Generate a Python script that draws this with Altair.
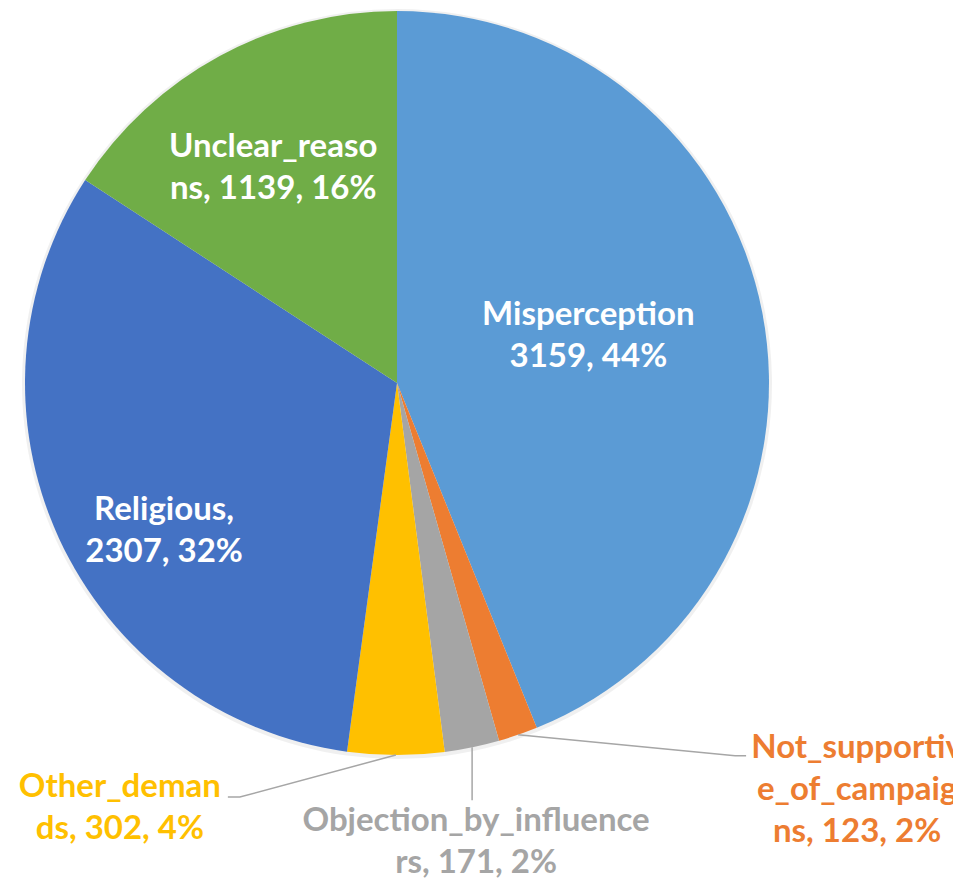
import math
import altair as alt
import pandas as pd

# ---- data ----
categories = ["Misperception", "Not_supportive_of_campaigns", "Objection_by_influencers",
              "Other_demands", "Religious", "Unclear_reasons"]
counts = [3159, 123, 171, 302, 2307, 1139]
label_lines = [
    ["Misperception", "3159, 44%"],
    ["Not_supportiv", "e_of_campaig", "ns, 123, 2%"],
    ["Objection_by_influence", "rs, 171, 2%"],
    ["Other_deman", "ds, 302, 4%"],
    ["Religious,", "2307, 32%"],
    ["Unclear_reaso", "ns, 1139, 16%"],
]
colors = ["#5B9BD5", "#ED7D31", "#A5A5A5", "#FFC000", "#4472C4", "#70AD47"]

# ---- layout / style ----
W, H = 945, 871
CX, CY = 389, 375
R = 372
FONT = "Lato"
FS = 33
LH = 42

total = sum(counts)
df = pd.DataFrame({
    "category": categories,
    "count": counts,
    "idx": list(range(len(categories))),
    "label": ["\n".join(l) for l in label_lines],
    "nlines": [len(l) for l in label_lines],
})
df["mid"] = df["count"].cumsum() - df["count"] / 2.0
ang = 2 * math.pi * df["mid"] / total
df["ex"] = CX + R * ang.apply(math.sin)
df["ey"] = CY - R * ang.apply(math.cos)

theta_scale = alt.Scale(domain=[0, total], range=[0, 2 * math.pi])
color_scale = alt.Scale(domain=categories, range=colors)

base = alt.Chart(df)

shadow = base.mark_arc(radius=R + 3, color="#000000", opacity=0.06).encode(
    theta=alt.Theta("count:Q", stack=True, scale=theta_scale),
    order=alt.Order("idx:Q"),
    x=alt.value(CX), y=alt.value(CY + 1),
)

pie = base.mark_arc(radius=R).encode(
    theta=alt.Theta("count:Q", stack=True, scale=theta_scale),
    order=alt.Order("idx:Q"),
    color=alt.Color("category:N", scale=color_scale, legend=None),
    x=alt.value(CX), y=alt.value(CY),
)

# label placement: (category, radius, dx, dy of block centre, text color)
label_style = [
    ("Misperception", 197, -2, -9, "#FFFFFF"),
    ("Religious", 276, 18, 33, "#FFFFFF"),
    ("Unclear_reasons", 245, -7, 0, "#FFFFFF"),
    ("Not_supportive_of_campaigns", R, 339, 55, "#ED7D31"),
    ("Objection_by_influencers", R, 4, 95, "#A5A5A5"),
    ("Other_demands", R, -276, 53, "#FFC000"),
]

text_layers = []
for cat, rad, dx, dy, col in label_style:
    n = int(df[df["category"] == cat]["nlines"].iloc[0])
    t = base.transform_filter(alt.datum.category == cat).mark_text(
        radius=rad, dx=dx, dy=dy - (n - 1) * LH / 2.0, font=FONT, fontSize=FS,
        fontWeight="bold", color=col, lineBreak="\n", lineHeight=LH,
        align="center", baseline="middle",
    ).encode(
        theta=alt.Theta("mid:Q", scale=theta_scale),
        text="label:N",
        x=alt.value(CX), y=alt.value(CY),
    )
    text_layers.append(t)

# leader lines: offsets from slice edge point
leader_style = {
    "Not_supportive_of_campaigns": [(0, 0), (217, 21), (228, 21)],
    "Objection_by_influencers": [(0, 0), (0, 53)],
    "Other_demands": [(0, 0), (-156, 42), (-168, 42)],
}
rows = []
for cat, pts in leader_style.items():
    r0 = df[df["category"] == cat].iloc[0]
    for i, (ox, oy) in enumerate(pts):
        rows.append({"category": cat, "pt": i, "px": r0["ex"] + ox, "py": r0["ey"] + oy})
leaders_df = pd.DataFrame(rows)

leaders = alt.Chart(leaders_df).mark_line(color="#A6A6A6", strokeWidth=1.5).encode(
    x=alt.X("px:Q", scale=None),
    y=alt.Y("py:Q", scale=None),
    detail="category:N",
    order="pt:Q",
)

chart = alt.layer(shadow, pie, leaders, *text_layers).properties(
    width=W, height=H,
    autosize=alt.AutoSizeParams(type="none"),
    padding=0,
    background="#FFFFFF",
).configure_view(stroke=None)

chart.save("out.html", embed_options={"renderer": "svg", "actions": False})
